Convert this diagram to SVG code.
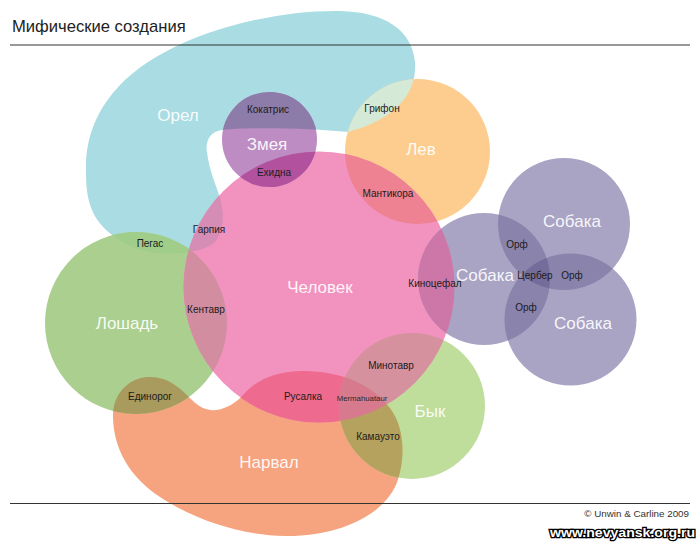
<svg xmlns="http://www.w3.org/2000/svg" xmlns:xlink="http://www.w3.org/1999/xlink" width="700" height="544" viewBox="0 0 700 544">
<style>
  text { font-family: "Liberation Sans", Arial, sans-serif; }
  .big { font-size: 17px; fill: #ffffff; fill-opacity: 0.92; text-anchor: middle; }
  .sm { font-size: 10px; fill: #1c1c1c; text-anchor: middle; }
  .tiny { font-size: 7.8px; fill: #2a2a2a; text-anchor: middle; }
  .rule { stroke: #333333; stroke-width: 1.2; }
</style>
<defs>
  <path id="s-orel" d="M 86,172 C 84,120 115,78 165,52 C 215,25 285,10 340,11 C 385,12 412,30 415,62 C 417,90 400,118 348,132 C 310,128 250,127 222,130 C 210,131 205,142 207,152 C 209,170 216,185 220,198 C 224,212 225,228 215,242 C 205,252 175,256 150,252 C 125,248 100,230 92,210 C 87,198 86,185 86,172 Z"/>
  <path id="s-narval" d="M 113,418 C 112,395 128,378 148,377 C 168,376 180,388 192,400 C 200,408 208,411 216,410 C 226,409 236,403 244,394 C 256,380 275,372 300,371 C 340,370 372,385 390,408 C 405,428 406,460 396,485 C 380,520 330,537 285,536 C 240,535 195,520 160,497 C 130,477 114,450 113,418 Z"/>
  <circle id="s-human" cx="319" cy="287" r="135.5"/>
  <circle id="s-horse" cx="136" cy="323" r="91"/>
  <circle id="s-bull" cx="412" cy="406" r="73"/>
  <circle id="s-lion" cx="417.5" cy="151.5" r="72.5"/>
  <circle id="s-snake" cx="269.5" cy="139.5" r="47.5"/>
  <circle id="s-dog1" cx="484" cy="279" r="66"/>
  <circle id="s-dog2" cx="564" cy="224" r="66"/>
  <circle id="s-dog3" cx="570.5" cy="319.5" r="66"/>
  <clipPath id="cp-orel"><use xlink:href="#s-orel"/></clipPath>
  <clipPath id="cp-narval"><use xlink:href="#s-narval"/></clipPath>
  <clipPath id="cp-human"><use xlink:href="#s-human"/></clipPath>
  <clipPath id="cp-horse"><use xlink:href="#s-horse"/></clipPath>
  <clipPath id="cp-bull"><use xlink:href="#s-bull"/></clipPath>
  <clipPath id="cp-dog1"><use xlink:href="#s-dog1"/></clipPath>
  <clipPath id="cp-dog2"><use xlink:href="#s-dog2"/></clipPath>
  <clipPath id="cp-dog3"><use xlink:href="#s-dog3"/></clipPath>
</defs>

<rect width="700" height="544" fill="#ffffff"/>

<!-- base sets -->
<g id="set-orel"><use xlink:href="#s-orel" fill="#AADCE3"/></g>
<g id="set-narval"><use xlink:href="#s-narval" fill="#F5A47F"/></g>
<g id="set-horse"><use xlink:href="#s-horse" fill="#ABCF8F"/></g>
<g id="set-bull"><use xlink:href="#s-bull" fill="#BFDD9B"/></g>
<g id="set-lion"><use xlink:href="#s-lion" fill="#FDCD90"/></g>
<g id="set-human"><use xlink:href="#s-human" fill="#F293BF"/></g>
<g id="set-snake"><use xlink:href="#s-snake" fill="#BD8CC3"/></g>
<g id="set-dog1"><use xlink:href="#s-dog1" fill="#A9A4C4"/></g>
<g id="set-dog2"><use xlink:href="#s-dog2" fill="#A9A4C4"/></g>
<g id="set-dog3"><use xlink:href="#s-dog3" fill="#A9A4C4"/></g>

<!-- pairwise overlaps -->
<g id="ov-kokatris"><use xlink:href="#s-snake" clip-path="url(#cp-orel)" fill="#8D7BA9"/></g>
<g id="ov-ekhidna"><use xlink:href="#s-snake" clip-path="url(#cp-human)" fill="#B2529F"/></g>
<g id="ov-garpiya"><use xlink:href="#s-orel" clip-path="url(#cp-human)" fill="#D58CB5"/></g>
<g id="ov-pegas"><use xlink:href="#s-orel" clip-path="url(#cp-horse)" fill="#A0CE8A"/></g>
<g id="ov-grifon"><use xlink:href="#s-lion" clip-path="url(#cp-orel)" fill="#D5EAD6"/></g>
<g id="ov-mantikora"><use xlink:href="#s-lion" clip-path="url(#cp-human)" fill="#EE8292"/></g>
<g id="ov-kentavr"><use xlink:href="#s-horse" clip-path="url(#cp-human)" fill="#D28EA0"/></g>
<g id="ov-kinocefal"><use xlink:href="#s-dog1" clip-path="url(#cp-human)" fill="#CD76A8"/></g>
<g id="ov-minotavr"><use xlink:href="#s-bull" clip-path="url(#cp-human)" fill="#D6919F"/></g>
<g id="ov-rusalka"><use xlink:href="#s-narval" clip-path="url(#cp-human)" fill="#EE6B8F"/></g>
<g id="ov-kamauto"><use xlink:href="#s-narval" clip-path="url(#cp-bull)" fill="#B5A25E"/></g>
<g id="ov-edinorog"><use xlink:href="#s-narval" clip-path="url(#cp-horse)" fill="#A99A5D"/></g>
<g id="ov-orf12"><use xlink:href="#s-dog1" clip-path="url(#cp-dog2)" fill="#8A83AC"/></g>
<g id="ov-orf23"><use xlink:href="#s-dog2" clip-path="url(#cp-dog3)" fill="#8A83AC"/></g>
<g id="ov-orf13"><use xlink:href="#s-dog1" clip-path="url(#cp-dog3)" fill="#8A83AC"/></g>

<!-- triple overlaps -->
<g id="ov-mermahuataur"><g clip-path="url(#cp-human)"><use xlink:href="#s-narval" clip-path="url(#cp-bull)" fill="#D87A8E"/></g></g>
<g id="ov-cerber"><g clip-path="url(#cp-dog1)"><use xlink:href="#s-dog2" clip-path="url(#cp-dog3)" fill="#746C9A"/></g></g>

<!-- rules and title -->
<line class="rule" x1="10" y1="45" x2="690" y2="45"/>
<line class="rule" x1="10" y1="503.5" x2="690" y2="503.5"/>
<text x="12" y="32" font-size="16.6" fill="#222222">Мифические создания</text>

<!-- set labels -->
<g id="labels-sets">
  <text class="big" x="178" y="121">Орел</text>
  <text class="big" x="267" y="150">Змея</text>
  <text class="big" x="421" y="155">Лев</text>
  <text class="big" x="320" y="293">Человек</text>
  <text class="big" x="127" y="329">Лошадь</text>
  <text class="big" x="485" y="281">Собака</text>
  <text class="big" x="572" y="227">Собака</text>
  <text class="big" x="583" y="329">Собака</text>
  <text class="big" x="430" y="417">Бык</text>
  <text class="big" x="269" y="468">Нарвал</text>
</g>

<!-- overlap labels -->
<g id="labels-overlaps">
  <text class="sm" x="268" y="113">Кокатрис</text>
  <text class="sm" x="274" y="176">Ехидна</text>
  <text class="sm" x="209" y="233">Гарпия</text>
  <text class="sm" x="150" y="247">Пегас</text>
  <text class="sm" x="382" y="112">Грифон</text>
  <text class="sm" x="388" y="197">Мантикора</text>
  <text class="sm" x="206" y="313">Кентавр</text>
  <text class="sm" x="435" y="287">Киноцефал</text>
  <text class="sm" x="517" y="248">Орф</text>
  <text class="sm" x="535" y="279">Цербер</text>
  <text class="sm" x="572" y="279">Орф</text>
  <text class="sm" x="526" y="311">Орф</text>
  <text class="sm" x="391" y="369">Минотавр</text>
  <text class="sm" x="303" y="400">Русалка</text>
  <text class="tiny" x="362" y="401">Mermahuataur</text>
  <text class="sm" x="150" y="400">Единорог</text>
  <text class="sm" x="378" y="440">Камауэто</text>
</g>

<text x="689" y="517" font-size="9.8" fill="#333333" text-anchor="end">© Unwin &amp; Carline 2009</text>
<text x="695" y="537" font-size="12.5" font-weight="bold" fill="#ffffff" stroke="#000000" stroke-width="2.6" paint-order="stroke" text-anchor="end" textLength="145" lengthAdjust="spacingAndGlyphs">www.nevyansk.org.ru</text>
</svg>
